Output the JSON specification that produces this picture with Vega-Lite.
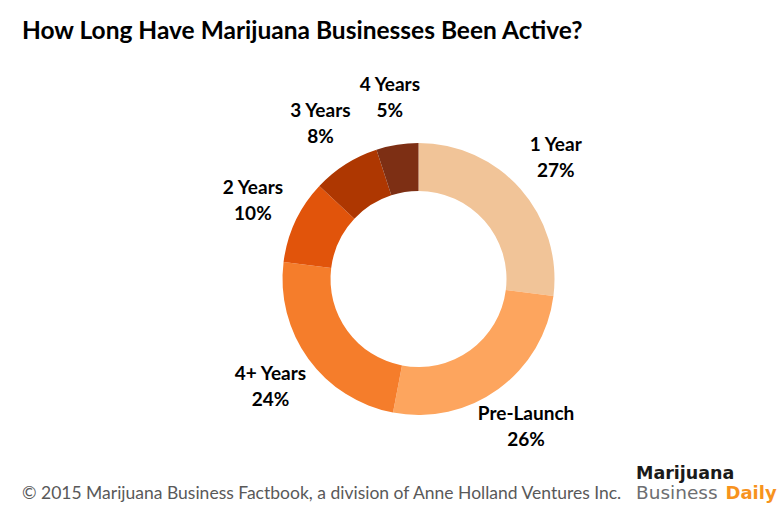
{
  "$schema": "https://vega.github.io/schema/vega-lite/v6.json",
  "width": 717,
  "height": 458,
  "autosize": "none",
  "padding": {"left": 60, "top": 50, "right": 0, "bottom": 0},
  "background": "white",
  "config": {"view": {"stroke": null}, "font": "Lato"},
  "title": {
    "text": "How Long Have Marijuana Businesses Been Active?",
    "anchor": "start",
    "frame": "bounds",
    "offset": 6,
    "fontSize": 24.5,
    "font": "Lato",
    "fontWeight": "bold",
    "color": "#000000"
  },
  "data": {
    "values": [
      {"category": "1 Year", "pct": 0.27, "seq": 1},
      {"category": "Pre-Launch", "pct": 0.26, "seq": 2},
      {"category": "4+ Years", "pct": 0.24, "seq": 3},
      {"category": "2 Years", "pct": 0.10, "seq": 4},
      {"category": "3 Years", "pct": 0.08, "seq": 5},
      {"category": "4 Years", "pct": 0.05, "seq": 6}
    ]
  },
  "layer": [
    {
      "mark": {"type": "arc", "radius": 136, "radius2": 88},
      "encoding": {
        "theta": {"field": "pct", "type": "quantitative", "stack": true},
        "order": {"field": "seq", "type": "quantitative"},
        "color": {
          "field": "category",
          "type": "nominal",
          "scale": {
            "domain": ["1 Year", "Pre-Launch", "4+ Years", "2 Years", "3 Years", "4 Years"],
            "range": ["#F1C498", "#FDA55E", "#F57D2B", "#E1540B", "#AE3701", "#7D2F14"]
          },
          "legend": null
        }
      }
    },
    {
      "mark": {"type": "text", "radius": 183, "dy": -13, "fontSize": 19, "fontWeight": "bold", "font": "Lato", "color": "#000000", "align": "center", "baseline": "middle"},
      "encoding": {
        "theta": {"field": "pct", "type": "quantitative", "stack": true},
        "order": {"field": "seq", "type": "quantitative"},
        "text": {"field": "category", "type": "nominal"}
      }
    },
    {
      "mark": {"type": "text", "radius": 183, "dy": 13, "fontSize": 19, "fontWeight": "bold", "font": "Lato", "color": "#000000", "align": "center", "baseline": "middle"},
      "encoding": {
        "theta": {"field": "pct", "type": "quantitative", "stack": true},
        "order": {"field": "seq", "type": "quantitative"},
        "text": {"field": "pct", "type": "quantitative", "format": ".0%"}
      }
    },
    {
      "data": {"values": [{"t": "© 2015 Marijuana Business Factbook, a division of Anne Holland Ventures Inc."}]},
      "mark": {"type": "text", "align": "left", "baseline": "alphabetic", "dx": -396.5, "dy": 220, "fontSize": 17.5, "font": "Lato", "color": "#595959"},
      "encoding": {"text": {"field": "t", "type": "nominal"}}
    },
    {
      "data": {"values": [{"t": "Marijuana"}]},
      "mark": {"type": "text", "align": "left", "baseline": "alphabetic", "dx": 217.5, "dy": 200, "fontSize": 17.5, "font": "DejaVu Sans", "fontWeight": "bold", "color": "#1a1a1a"},
      "encoding": {"text": {"field": "t", "type": "nominal"}}
    },
    {
      "data": {"values": [{"t": "Business"}]},
      "mark": {"type": "text", "align": "left", "baseline": "alphabetic", "dx": 217.5, "dy": 220, "fontSize": 18.5, "font": "DejaVu Sans", "color": "#6d6e71"},
      "encoding": {"text": {"field": "t", "type": "nominal"}}
    },
    {
      "data": {"values": [{"t": "Daily"}]},
      "mark": {"type": "text", "align": "left", "baseline": "alphabetic", "dx": 307, "dy": 220, "fontSize": 18, "font": "DejaVu Sans", "fontWeight": "bold", "color": "#F7931E"},
      "encoding": {"text": {"field": "t", "type": "nominal"}}
    }
  ]
}
